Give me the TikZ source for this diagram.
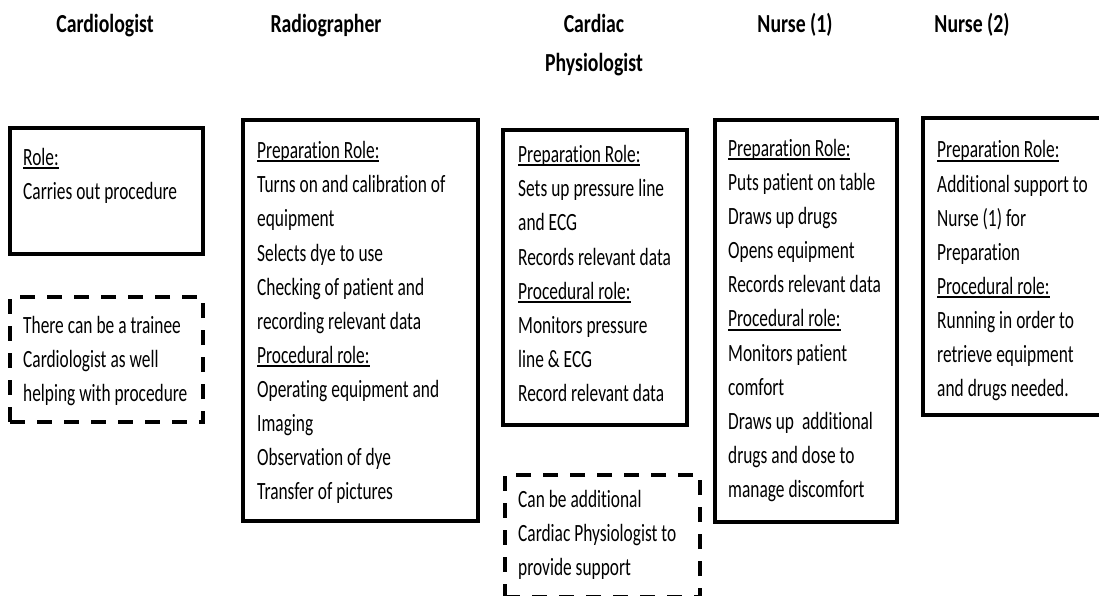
\documentclass[tikz,border=0pt]{standalone}
\usepackage{fontspec}
\newfontfamily\bodyfont[FakeStretch=0.70,Ligatures=NoCommon]{Carlito}
\newfontfamily\hdrfont[FakeStretch=0.76,Ligatures=NoCommon]{Carlito Bold}
\newcommand\myul[1]{\leavevmode\setbox0\hbox{#1}\rlap{\rule[-3.5pt]{\wd0}{2pt}}#1}
\newcommand\bodysetup{\bodyfont\fontsize{24.8}{34}\selectfont}
\newcommand\hdrsetup{\hdrfont\fontsize{26}{39}\selectfont}
\newcommand\tightsp{\spaceskip=4pt\relax\xspaceskip=4pt\relax}
\newcommand\hdrsp{\spaceskip=4.5pt\relax\xspaceskip=4.5pt\relax}
\begin{document}
\begin{tikzpicture}[x=1pt,y=-1pt,
  solidbox/.style={draw=black, line width=4.5pt, inner sep=0pt, outer sep=0pt, anchor=north west},
  dashbox/.style={draw=black, line width=4.5pt, dash pattern=on 15pt off 12pt, inner sep=0pt, outer sep=0pt, anchor=north west},
  txt/.style={anchor=base west, align=left, text width=260pt, inner sep=0pt, font=\bodysetup, execute at begin node=\tightsp},
  hdr/.style={anchor=base, align=center, text width=200pt, inner sep=0pt, font=\hdrsetup, execute at begin node=\hdrsp}]
\useasboundingbox (0,0) rectangle (1099,596);
% headers
\node[hdr] (h1) at (105,33) {Cardiologist};
\node[hdr] (h2) at (326,33) {Radiographer};
\node[hdr] (h3) at (594,33) {Cardiac\\Physiologist};
\node[hdr] (h4) at (795,33) {Nurse (1)};
\node[hdr] (h5) at (972,33) {Nurse (2)};
% boxes
\node[solidbox, minimum width=193pt, minimum height=126pt] (b1) at (10,128) {};
\node[dashbox, minimum width=193pt, minimum height=125pt] (b1d) at (10,297) {};
\node[solidbox, minimum width=235pt, minimum height=401pt] (b2) at (243,120) {};
\node[solidbox, minimum width=184pt, minimum height=295pt] (b3) at (503,130) {};
\node[dashbox, minimum width=195pt, minimum height=122pt] (b3d) at (505,475) {};
\node[solidbox, minimum width=182pt, minimum height=402pt] (b4) at (715,120) {};
\node[solidbox, minimum width=200pt, minimum height=297pt] (b5) at (923,118) {};
% texts
\node[txt] (t1) at (23,165) {\myul{Role:}\\Carries out procedure};
\node[txt] (t1d) at (23,333) {There can be a trainee\\Cardiologist as well\\helping with\ procedure};
\node[txt] (t2) at (257,159) {\myul{Preparation Role:}\\Turns on and\ calibration of\\equipment\\Selects dye to use\\Checking of patient and\\recording relevant data\\\myul{Procedural role:}\\Operating equipment and\\Imaging\\Observation of dye\\Transfer of pictures};
\node[txt] (t3) at (518,163) {\myul{Preparation Role:}\\Sets up pressure line\\and ECG\\Records relevant data\\\myul{Procedural role:}\\Monitors pressure\\line \& ECG\\Record relevant data};
\node[txt] (t3d) at (518,507) {Can be additional\\Cardiac Physiologist to\\provide support};
\node[txt] (t4) at (728,157) {\myul{Preparation Role:}\\Puts patient\ on table\\Draws up drugs\\Opens equipment\\Records relevant data\\\myul{Procedural role:}\\Monitors patient\\comfort\\Draws up\ \ additional\\drugs and dose to\\manage discomfort};
\node[txt] (t5) at (937,158) {\myul{Preparation Role:}\\Additional support to\\Nurse (1) for\\Preparation\\\myul{Procedural role:}\\Running in order to\\retrieve equipment\\and drugs needed.};
\end{tikzpicture}
\end{document}
